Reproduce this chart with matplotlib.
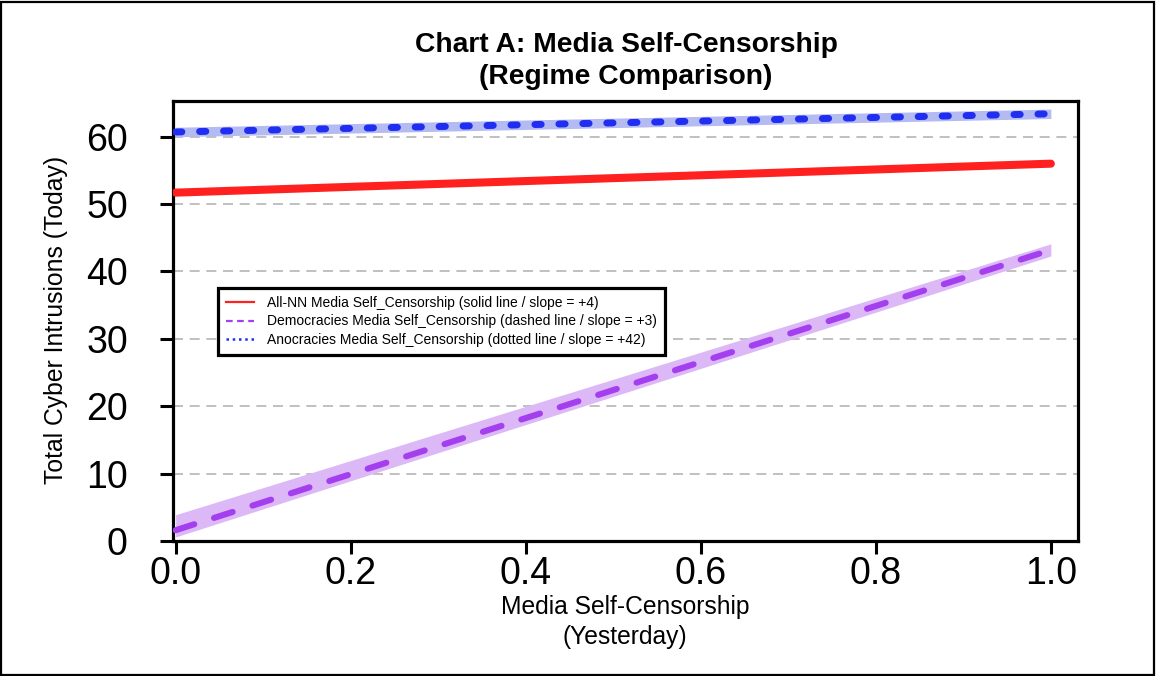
import matplotlib
matplotlib.use("Agg")
import matplotlib.pyplot as plt
from matplotlib.lines import Line2D
from matplotlib.patches import Rectangle

plt.rcParams["font.family"] = ["Liberation Sans", "DejaVu Sans"]

# Predicted values at the two ends of the self-censorship range
x_vals = [0.0, 1.0]
all_nn = [51.7, 56.0]
democracies = [1.6, 43.2]
democracies_lo = [0.6, 42.3]
democracies_hi = [3.9, 44.1]
anocracies = [60.7, 63.4]
anocracies_lo = [60.0, 62.7]
anocracies_hi = [61.4, 64.1]

y_ticks = [0, 10, 20, 30, 40, 50, 60]
x_ticks = [0.0, 0.2, 0.4, 0.6, 0.8, 1.0]
x_tick_labels = ["0.0", "0.2", "0.4", "0.6", "0.8", "1.0"]

legend_labels = [
    "All-NN Media Self_Censorship (solid line / slope = +4)",
    "Democracies Media Self_Censorship (dashed line / slope = +3)",
    "Anocracies Media Self_Censorship (dotted line / slope = +42)",
]

W, H = 1156, 676
fig = plt.figure(figsize=(W / 100, H / 100), dpi=100)
fig.patch.set_facecolor("white")

ax = fig.add_axes([173 / W, 1 - 541 / H, (1078 - 173) / W, (541 - 101) / H])
ax.set_xlim(-0.003, 1.031)
ax.set_ylim(0, 65.3)

# horizontal reference lines
for yv in y_ticks:
    ax.axhline(yv, color="#b5b5b5", lw=1.2, ls=(0, (6, 4)), zorder=1)

# confidence bands
ax.fill_between(x_vals, democracies_lo, democracies_hi, color="#dcb8f6",
                lw=0, zorder=2)
ax.fill_between(x_vals, anocracies_lo, anocracies_hi, color="#b4baf2",
                lw=0, zorder=2)

# fitted lines
ax.plot(x_vals, all_nn, color="#ff2020", lw=5.8, solid_capstyle="round",
        zorder=3)
ax.plot(x_vals, democracies, color="#a43ff0", lw=4.4, ls=(0, (3.2, 3.4)),
        dash_capstyle="round", zorder=3)
ax.plot(x_vals, anocracies, color="#1f2ef0", lw=5.0, ls=(0, (0.9, 2.55)),
        dash_capstyle="round", zorder=3)

# axes styling
for sp in ax.spines.values():
    sp.set_linewidth(2.3)
    sp.set_color("black")

ax.set_yticks(y_ticks)
ax.set_yticklabels([str(v) for v in y_ticks])
ax.set_xticks(x_ticks)
ax.set_xticklabels(x_tick_labels)
ax.tick_params(axis="y", direction="out", length=9.5, width=2.2, pad=23,
               labelsize=27)
ax.tick_params(axis="x", direction="out", length=9.5, width=2.2, pad=1,
               labelsize=27)

ax.set_ylabel("Total Cyber Intrusions (Today)", fontsize=17.8)
ax.yaxis.set_label_coords(-0.116, 0.502)

# titles and x-axis label
fig.text(626 / W, 1 - 45 / H, "Chart A: Media Self-Censorship",
         ha="center", va="center", fontsize=20.3, fontweight="bold")
fig.text(626 / W, 1 - 77 / H, "(Regime Comparison)",
         ha="center", va="center", fontsize=20.3, fontweight="bold")
fig.text(625 / W, 1 - 607 / H, "Media Self-Censorship",
         ha="center", va="center", fontsize=17.7)
fig.text(625 / W, 1 - 637 / H, "(Yesterday)",
         ha="center", va="center", fontsize=17.7)

# legend with thin sample lines
handles = [
    Line2D([], [], color="#ff2020", lw=1.6),
    Line2D([], [], color="#a43ff0", lw=1.6, ls=(0, (3, 2))),
    Line2D([], [], color="#1f2ef0", lw=1.8, ls=(0, (1, 1.5))),
]
leg = fig.legend(handles, legend_labels, loc="upper left",
                 bbox_to_anchor=(218 / W, 1 - 288 / H), borderaxespad=0,
                 fontsize=10.0, frameon=True, fancybox=False, framealpha=1,
                 handlelength=2.0, handletextpad=0.9, labelspacing=0.3,
                 borderpad=0.6)
leg.get_frame().set_edgecolor("black")
leg.get_frame().set_linewidth(2.3)

# outer frame around the whole figure
fig.patches.append(Rectangle((1 / W, 1 / H), 1 - 3 / W, 1 - 3 / H,
                             transform=fig.transFigure, fill=False,
                             edgecolor="black", lw=1.6))

fig.savefig("out.png", dpi=100)
